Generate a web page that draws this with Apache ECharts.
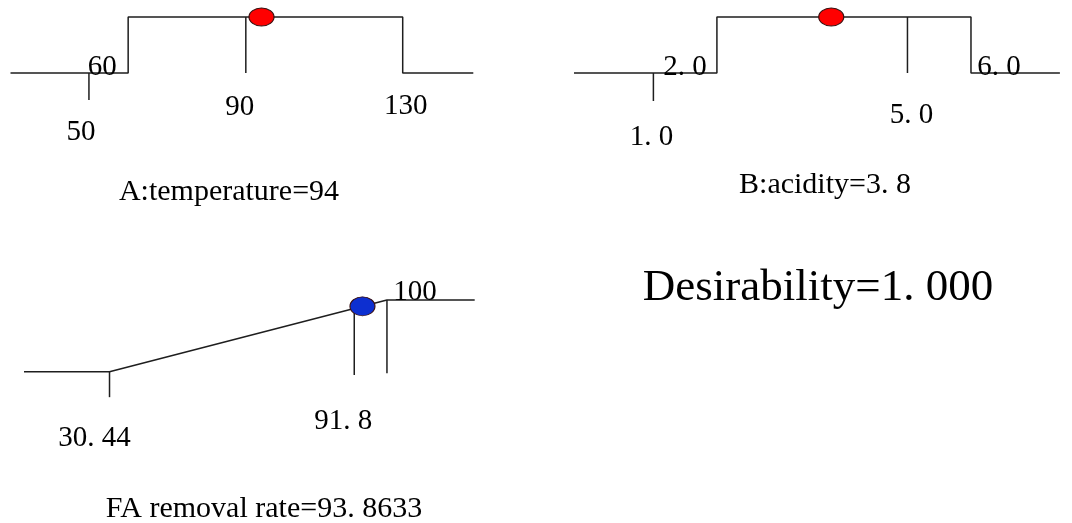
<!DOCTYPE html>
<html>
<head>
<meta charset="utf-8">
<script src="https://cdn.jsdelivr.net/npm/echarts@6/dist/echarts.min.js"></script>
<style>
  html, body { margin: 0; padding: 0; background: #fff; }
  #chart { width: 1072px; height: 523px; }
</style>
</head>
<body>
<div id="chart"></div>
<script>
// ---- Factor A: temperature ----
const tempSpan = [30, 148];            // drawn extent of the factor scale
const tempLimits = [60, 130];          // desirability = 1 inside these limits
const tempTicks = [[50, 0, -0.48], [90, 1, 0]];   // [value, d from, d to]
const tempLabels = [[50, '50'], [60, '60'], [90, '90'], [130, '130']];
const tempOptimum = 94;
const tempTitle = 'A:temperature=94';

// ---- Factor B: acidity ----
const acidSpan = [-0.25, 7.4];
const acidLimits = [2.0, 6.0];
const acidTicks = [[1.0, 0, -0.5], [5.0, 1, 0]];
const acidLabels = [[1.0, '1. 0'], [2.0, '2. 0'], [5.0, '5. 0'], [6.0, '6. 0']];
const acidOptimum = 3.8;
const acidTitle = 'B:acidity=3. 8';

// ---- Response: FA removal rate (maximize) ----
const rateSpan = [9, 122];
const rateLimits = [30.44, 100];       // ramp from d = 0 to d = 1
const rateTicks = [[30.44, 0, -0.355], [91.8, null, -0.046], [100, 1, -0.023]];
const rateLabels = [[30.44, '30. 44'], [91.8, '91. 8'], [100, '100']];
const rateOptimum = 93.8633;
const rateTitle = 'FA removal rate=93. 8633';

const overall = 'Desirability=1. 000';

// ---- layout ----
const SERIF = '"Liberation Serif", "DejaVu Serif", serif';
const LINE = { color: '#1e1e1e', width: 1.5 };

const panels = [
  { span: tempSpan, limits: tempLimits, ticks: tempTicks, labels: tempLabels,
    opt: tempOptimum, shape: 'step', dot: '#ff0000', dotSize: [25, 18],
    grid: { left: 10.5, width: 462.8, top: 17, height: 84 }, yMin: -0.5,
    offsets: [[-8, 59], [-26, -6], [-6, 34], [3, 33]] },
  { span: acidSpan, limits: acidLimits, ticks: acidTicks, labels: acidLabels,
    opt: acidOptimum, shape: 'step', dot: '#ff0000', dotSize: [25, 18],
    grid: { left: 574, width: 485.9, top: 17, height: 84 }, yMin: -0.5,
    offsets: [[-2, 64], [-32, -6], [4, 42], [28, -6]] },
  { span: rateSpan, limits: rateLimits, ticks: rateTicks, labels: rateLabels,
    opt: rateOptimum, shape: 'ramp', dot: '#0d2fd0', dotSize: [25, 19],
    grid: { left: 24, width: 450.7, top: 300, height: 100.4 }, yMin: -0.4,
    offsets: [[-15, 67], [-11, 50], [28, -79]] }
];

// desirability of a value on a panel's curve
function desirability(p, v) {
  const [lo, hi] = p.limits;
  if (p.shape === 'step') return (v >= lo && v <= hi) ? 1 : 0;
  if (v <= lo) return 0;
  if (v >= hi) return 1;
  return (v - lo) / (hi - lo);
}

function curve(p) {
  const [a, b] = p.span;
  const [lo, hi] = p.limits;
  if (p.shape === 'step') {
    return [[a, 0], [lo, 0], [lo, 1], [hi, 1], [hi, 0], [b, 0]];
  }
  return [[a, 0], [lo, 0], [hi, 1], [b, 1]];
}

const grids = [], xAxes = [], yAxes = [], series = [];
panels.forEach((p, i) => {
  grids.push(Object.assign({ outerBoundsMode: 'none', containLabel: false }, p.grid));
  xAxes.push({ type: 'value', gridIndex: i, min: p.span[0], max: p.span[1], show: false });
  yAxes.push({ type: 'value', gridIndex: i, min: p.yMin, max: 1, show: false });

  series.push({
    type: 'line', xAxisIndex: i, yAxisIndex: i, data: curve(p),
    symbol: 'none', clip: false, lineStyle: LINE, silent: true
  });
  p.ticks.forEach(([v, from, to]) => {
    const top = from === null ? desirability(p, v) : from;
    series.push({
      type: 'line', xAxisIndex: i, yAxisIndex: i, data: [[v, top], [v, to]],
      symbol: 'none', clip: false, lineStyle: LINE, silent: true
    });
  });
  series.push({
    type: 'scatter', xAxisIndex: i, yAxisIndex: i, z: 5,
    data: [[p.opt, desirability(p, p.opt)]],
    symbol: 'circle', symbolSize: p.dotSize, clip: false,
    itemStyle: { color: p.dot, opacity: 1, borderColor: '#3a1010', borderWidth: 1 }
  });
  series.push({
    type: 'scatter', xAxisIndex: i, yAxisIndex: i, z: 6,
    data: p.labels.map(([v, text], k) => ({
      value: [v, 0],
      label: { formatter: text, offset: p.offsets[k] }
    })),
    symbol: 'circle', symbolSize: 1, clip: false, silent: true,
    itemStyle: { color: 'rgba(0,0,0,0)', opacity: 1 },
    label: { show: true, position: 'inside', color: '#000', opacity: 1,
             fontFamily: SERIF, fontSize: 29, align: 'center', verticalAlign: 'middle' }
  });
});

function text(str, x, y, size) {
  return { type: 'text', x: x, y: y, silent: true,
    style: { text: str, font: size + 'px ' + SERIF, fill: '#000',
             textAlign: 'center', textVerticalAlign: 'middle' } };
}

const chart = echarts.init(document.getElementById('chart'), null, { renderer: 'canvas' });
chart.setOption({
  animation: false,
  backgroundColor: '#fff',
  grid: grids,
  xAxis: xAxes,
  yAxis: yAxes,
  series: series,
  graphic: [
    text(tempTitle, 229, 192, 30),
    text(acidTitle, 825, 185, 30),
    text(rateTitle, 264, 509, 30),
    text(overall, 818, 288, 45)
  ]
});
</script>
</body>
</html>
